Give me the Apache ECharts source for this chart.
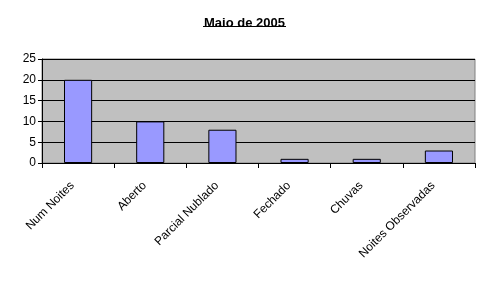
<!DOCTYPE html>
<html><head><meta charset="utf-8">
<script src="https://cdn.jsdelivr.net/npm/echarts@6/dist/echarts.min.js"></script>
<style>html,body{margin:0;padding:0;background:#fff}#c{width:489px;height:282px}</style>
</head><body><div id="c"></div>
<script>
const categories = ['Num Noites', 'Aberto', 'Parcial Nublado', 'Fechado', 'Chuvas', 'Noites Observadas'];
const values = [20, 10, 8, 1, 1, 3];
const yTicks = [0, 5, 10, 15, 20, 25];

const chart = echarts.init(document.getElementById('c'), null, {renderer: 'canvas'});
chart.setOption({
  animation: false,
  backgroundColor: '#ffffff',
  title: {
    text: 'Maio de 2005', left: 'center', top: 12,
    textStyle: {fontFamily: 'Liberation Sans', fontSize: 13, fontWeight: 'bold', color: '#000'}
  },
  graphic: [{
    type: 'line', shape: {x1: 203, y1: 26.5, x2: 286, y2: 26.5},
    style: {stroke: '#000', lineWidth: 1}
  }],
  grid: {left: 42, right: 14, top: 59, bottom: 119, show: true,
    backgroundColor: '#c0c0c0', borderColor: '#808080', borderWidth: 1},
  xAxis: {
    type: 'category', data: categories,
    axisLine: {lineStyle: {color: '#000', width: 1}},
    axisTick: {show: true, alignWithLabel: false, length: 5, lineStyle: {color: '#000'}},
    axisLabel: {rotate: 45, interval: 0, margin: 15, padding: [0, 8, 0, 0], fontFamily: 'Liberation Sans', fontSize: 12, color: '#000'}
  },
  yAxis: {
    type: 'value', min: yTicks[0], max: yTicks[yTicks.length - 1], interval: 5,
    axisLine: {show: true, lineStyle: {color: '#000', width: 1}},
    axisTick: {show: true, length: 4, lineStyle: {color: '#000'}},
    axisLabel: {margin: 6, fontFamily: 'Liberation Sans', fontSize: 12, color: '#000'},
    splitLine: {show: true, lineStyle: {color: '#000', width: 1}}
  },
  series: [{
    type: 'bar', data: values, barWidth: '39%',
    itemStyle: {color: '#9999ff', borderColor: '#000', borderWidth: 1}
  }]
});
</script></body></html>
